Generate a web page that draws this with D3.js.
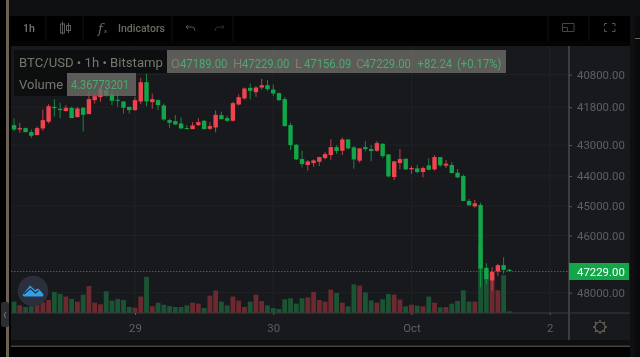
<!DOCTYPE html>
<html>
<head>
<meta charset="utf-8">
<script src="https://d3js.org/d3.v7.min.js"></script>
<style>
  html, body { margin: 0; padding: 0; background: #000; }
  svg { display: block; filter: blur(0.42px); }
  text { font-family: Roboto, sans-serif; }
</style>
</head>
<body>
<svg id="chart"></svg>
<script>
// one candle per hour, starting 28 Sep 03:00
const opens = [42363,42500,42458,42584,42679,42468,42258,41789,41851,41923,41820,42110,41820,42017,41581,41489,41274,41397,41571,41623,41789,41892,41623,41028,41643,41581,41747,42205,42237,42310,42458,42489,42363,42226,42479,42437,42048,42142,42226,41716,41530,41202,41335,41192,41120,41253,41366,41550,42363,42988,43448,43642,43577,43535,43416,43320,43063,43180,42817,43073,43502,43063,43126,43180,42956,43298,44035,43577,43438,43783,43751,43871,43653,43783,43384,43664,43642,43892,44002,44827,45006,44961,47118,47565,47247,47025,47189];
const highs = [42552,42605,42595,42775,42690,42542,42310,42090,42142,41934,42142,42121,42563,42017,41685,41633,41479,41737,41789,41996,41996,41913,41706,41768,41851,41892,42226,42447,42363,42489,42500,42489,42395,42500,42521,42595,42184,42258,42247,41747,41561,41561,41479,41253,41294,41448,41602,42395,43158,43481,43718,43827,43696,43675,43459,43470,43287,43320,43137,43762,43567,43201,43513,43212,43416,44046,44133,43783,43805,43936,43914,44046,43816,43827,43696,43740,43914,44068,44827,44995,45050,47802,47683,47933,47400,47330,47229];
const lows = [42153,42289,42437,42500,42405,41871,41706,41550,41664,41737,41789,41789,41789,41305,41376,41192,41253,41274,41294,41612,41789,41479,40896,40775,41376,41561,41685,42153,42048,42121,42363,42268,42142,42205,42268,41902,41944,42069,41633,41407,41192,41069,41151,40926,40967,41100,41345,41479,42289,42966,43180,43481,43459,43373,43223,42817,42998,42753,42817,43031,43105,42871,42998,42871,42945,43287,43513,43126,43438,43675,43631,43696,43427,43320,43384,43481,43545,43772,43947,44761,44794,44884,46955,47095,46978,46746,47156];
const closes = [42500,42458,42584,42700,42458,42205,41768,41830,41892,41820,42142,41841,42038,41550,41458,41243,41438,41602,41602,41820,41892,41581,41028,41623,41550,41737,42184,42289,42342,42468,42489,42373,42268,42489,42395,42038,42174,42226,41674,41489,41223,41294,41192,41120,41243,41376,41581,42395,42998,43459,43610,43524,43491,43384,43287,43063,43190,42817,43105,43459,43105,43126,43190,42934,43352,44013,43524,43448,43783,43740,43871,43740,43794,43384,43653,43599,43903,44046,44827,44973,44906,47142,47518,47259,47025,47189,47229];
const volumes = [29.7,20.1,15.7,17.5,21,28,34,55,50,43,36.7,29.7,48,70.7,27,22.7,56.7,32.3,36.7,34,15.7,14,43,94.3,17.5,27,21.8,18.3,15.7,15.7,20,27,24.4,13,45.4,58.5,29.7,20,43,32.3,15.7,29.7,48,31.4,20,13,10.5,35.8,38.4,24.4,38.4,41,55,34,29.7,61,52.4,27,17.5,75,71.6,54,33,27,35.8,49.8,48,35,17.5,21.8,19.2,17.5,42.8,27,14.8,15.7,24.4,31.4,59.4,29.7,29.7,177,105,105,59.4,98.7,4.37];
const priceTicks = [40800,41800,43000,44000,45000,46000,48000];
const lastPrice = 47229;
const dayTicks = [new Date(Date.UTC(2021,8,29)), new Date(Date.UTC(2021,8,30)), new Date(Date.UTC(2021,9,1)), new Date(Date.UTC(2021,9,2))];
const dayLabels = ["29","30","Oct","2"];
const ohlcLabels = [["O","47189.00",171,180],["H","47229.00",233,242],["L","47156.09",295,304],["C","47229.00",356,363.5]];
const changeLabels = [["+82.24",417.5],["(+0.17%)",457]];

const width = 640, height = 357;
const green = "#12a649", red = "#ee4450";
const volGreen = "#1b5434", volRed = "#6c2a30";
const hours = d3.range(opens.length).map(i => new Date(Date.UTC(2021,8,28,3 + i)));

const svg = d3.select("#chart").attr("width", width).attr("height", height).attr("viewBox", [0,0,width,height]);

const x = d3.scaleUtc().domain([dayTicks[0], dayTicks[3]]).range([135, 549.7]);
// log scale, flipped: 40800 at the top
const y = d3.scaleLog().domain([40800, 48000]).range([74.7, 292.7]);
const vol = d3.scaleLinear().domain([0, 177]).range([313, 245.3]);

// page chrome
svg.append("rect").attr("width", width).attr("height", height).attr("fill", "#0e0f11");
svg.append("rect").attr("y", 346).attr("width", 630).attr("height", 11).attr("fill", "#000");
svg.append("rect").attr("width", 6).attr("height", height).attr("fill", "#000");
svg.append("rect").attr("x", 9).attr("y", 16).attr("width", 621).attr("height", 30).attr("fill", "#040405");
svg.append("rect").attr("x", 9).attr("y", 46).attr("width", 2).attr("height", 311).attr("fill", "#040405");
svg.append("rect").attr("x", 11).attr("y", 16).attr("width", 619).attr("height", 25).attr("fill", "#000");
svg.append("rect").attr("x", 635).attr("y", 16).attr("width", 5).attr("height", 341).attr("fill", "#0a0a0c");
svg.append("rect").attr("x", 635).attr("y", 38).attr("width", 5).attr("height", 1).attr("fill", "#6b6255");
svg.append("rect").attr("x", 11).attr("y", 46).attr("width", 619).attr("height", 294).attr("fill", "#18191c");
svg.append("rect").attr("x", 6).attr("width", 3).attr("height", height).attr("fill", "#6b6255");
svg.append("rect").attr("x", 11).attr("y", 345.7).attr("width", 619).attr("height", 1).attr("fill", "#6b6255");

// grid
const grid = svg.append("g").attr("stroke", "#212226");
grid.selectAll("line.h").data(priceTicks).join("line").attr("class", "h")
  .attr("x1", 11).attr("x2", 569).attr("y1", d => y(d)).attr("y2", d => y(d));
grid.selectAll("line.v").data(dayTicks).join("line").attr("class", "v")
  .attr("y1", 46).attr("y2", 313).attr("x1", d => x(d)).attr("x2", d => x(d));

// volume under the candles
svg.append("g").selectAll("rect").data(volumes).join("rect")
  .attr("x", (d, i) => x(hours[i]) - 2.4)
  .attr("width", 4.8)
  .attr("y", d => vol(d))
  .attr("height", d => 313 - vol(d))
  .attr("fill", (d, i) => closes[i] < opens[i] ? volRed : volGreen);

// last price line
svg.append("line").attr("x1", 11).attr("x2", 569).attr("y1", y(lastPrice) + 0.5).attr("y2", y(lastPrice) + 0.5)
  .attr("stroke", "#1f7a45").attr("stroke-dasharray", "1.5,1.5");

// candles
const candles = svg.append("g").selectAll("g").data(hours).join("g")
  .attr("fill", (d, i) => closes[i] < opens[i] ? red : green)
  .attr("stroke", (d, i) => closes[i] < opens[i] ? red : green);
candles.append("line")
  .attr("x1", d => x(d)).attr("x2", d => x(d))
  .attr("y1", (d, i) => y(lows[i])).attr("y2", (d, i) => y(highs[i]))
  .attr("stroke-opacity", 0.8);
candles.append("rect")
  .attr("stroke", "none")
  .attr("x", d => x(d) - 2.2)
  .attr("width", 4.4)
  .attr("y", (d, i) => y(Math.min(opens[i], closes[i])))
  .attr("height", (d, i) => Math.max(1, Math.abs(y(opens[i]) - y(closes[i]))));

// price axis
svg.append("rect").attr("x", 569).attr("y", 46).attr("width", 61).attr("height", 294).attr("fill", "#18191c");
const yAxis = svg.append("g").attr("transform", "translate(569,0)")
  .call(d3.axisRight(y).tickValues(priceTicks).tickFormat(d3.format(".2f")).tickSize(3).tickPadding(5))
  .call(g => g.select(".domain").attr("d", "M0,46V340").attr("stroke", "#55565a").attr("stroke-width", 1.2));
yAxis.selectAll("line").attr("stroke", "#55565a");
yAxis.selectAll("text").attr("fill", "#5e5f63").style("font-size", "11.4px").style("font-family", "Roboto");

// time axis
const xAxis = svg.append("g").attr("transform", "translate(0,313)")
  .call(d3.axisBottom(x).tickValues(dayTicks).tickFormat((d, i) => dayLabels[i]).tickSize(2).tickPadding(9))
  .call(g => g.select(".domain").attr("d", "M11,0H630").attr("stroke", "#3a3b3f"));
xAxis.selectAll("line").attr("stroke", "#5e5f63");
xAxis.selectAll("text").attr("fill", "#5e5f63").style("font-size", "11.4px").style("font-family", "Roboto");

// last price tag
svg.append("rect").attr("x", 569).attr("y", 263).attr("width", 60).attr("height", 17).attr("fill", "#12a649");
svg.append("text").attr("x", 577).attr("y", 276).attr("fill", "#fff").style("font-size", "11.4px").text(lastPrice.toFixed(2));

// legend boxes sit over the candles
svg.append("rect").attr("x", 14).attr("y", 50).attr("width", 153).attr("height", 23).attr("fill", "#0d0e0f");
svg.append("rect").attr("x", 14).attr("y", 73).attr("width", 53).attr("height", 23).attr("fill", "#0d0e0f");
svg.append("rect").attr("x", 167).attr("y", 50).attr("width", 339).attr("height", 23).attr("fill", "#6e6e68").attr("fill-opacity", 0.78);
svg.append("rect").attr("x", 67).attr("y", 73).attr("width", 69).attr("height", 23).attr("fill", "#6e6e68").attr("fill-opacity", 0.78);

const legendGrey = "#77776f", legendGreen = "#4caa6e";
const legend = svg.append("g").style("font-size", "13px");
legend.append("text").attr("x", 19).attr("y", 66.5).attr("fill", legendGrey).style("font-size", "13.15px").text("BTC/USD • 1h • Bitstamp");
legend.append("text").attr("x", 19).attr("y", 89).attr("fill", legendGrey).text("Volume");
// the values are drawn narrower than the font's own width
const value = (tx, ty, sx, fill, s) => legend.append("text")
  .attr("transform", `translate(${tx},${ty}) scale(${sx},1)`).attr("fill", fill).text(s);
value(71, 89, 0.84, legendGreen, "4.36773201");
ohlcLabels.forEach(([k, v, kx, vx]) => {
  legend.append("text").attr("x", kx).attr("y", 68).attr("fill", "#7f7f78").text(k);
  value(vx, 68, 0.868, legendGreen, v);
});
changeLabels.forEach(([v, vx]) => value(vx, 68, 0.868, legendGreen, v));

// toolbar
const bar = svg.append("g");
bar.selectAll("line").data([46, 83, 172, 233, 548, 589]).join("line")
  .attr("x1", d => d).attr("x2", d => d).attr("y1", 16).attr("y2", 41).attr("stroke", "#131417");
bar.append("text").attr("x", 23).attr("y", 32).attr("fill", "#77776f").style("font-size", "10.5px").style("font-weight", 500).text("1h");
bar.append("text").attr("x", 118).attr("y", 32).attr("fill", "#6a6a64").style("font-size", "10.5px").style("font-weight", 500).text("Indicators");
bar.append("text").attr("x", 98).attr("y", 33).attr("fill", "#6a6a64").style("font-family", "DejaVu Serif").style("font-style", "italic").style("font-size", "13px").text("f");
bar.append("text").attr("x", 104).attr("y", 33).attr("fill", "#6a6a64").style("font-size", "6px").text("x");
const icons = bar.append("g").attr("fill", "none").attr("stroke", "#5c5c58");
icons.append("path").attr("d", "M62.5,21.5V34.5M68.5,23V33");
icons.append("rect").attr("x", 60.5).attr("y", 24).attr("width", 4).attr("height", 9);
icons.append("rect").attr("x", 66.5).attr("y", 25.5).attr("width", 4).attr("height", 5);
icons.append("path").attr("d", "M186,27H192Q195,27 195,31M188,25L186,27L188,29").attr("stroke", "#55554f");
icons.append("path").attr("d", "M224,27H218Q215,27 215,31M222,25L224,27L222,29").attr("stroke", "#2c2c2a");
icons.append("path").attr("d", "M562.5,23.5H574V31.5H562.5ZM562.5,27.5H567.5V31.5").attr("stroke", "#444441");
icons.append("path").attr("d", "M604.5,26V23.5H607M612,23.5H615V26M604.5,29V31.5H607M612,31.5H615V29").attr("stroke", "#555550");

// settings gear
const gear = svg.append("g").attr("transform", "translate(600,327)").attr("fill", "none").attr("stroke", "#6b6255");
gear.append("circle").attr("r", 5).attr("stroke-width", 1.2);
gear.selectAll("line").data(d3.range(8)).join("line")
  .attr("transform", d => `rotate(${d * 45})`).attr("y1", -5).attr("y2", -7).attr("stroke-width", 1.4);

// logo and side handle
svg.append("circle").attr("cx", 33).attr("cy", 291).attr("r", 15.3).attr("fill", "#2b2f3b");
svg.append("path").attr("d", "M22.5,295L30,285.5L35,290L38,288.5L42,292.5Q44.5,296 42.5,296.5H24Z").attr("fill", "#2f9fee");
svg.append("path").attr("d", "M24,294L30.5,288.5L35.5,293L38.5,290.5").attr("fill", "none").attr("stroke", "#2b2f3b").attr("stroke-width", 1.3);
svg.append("rect").attr("x", 1).attr("y", 302).attr("width", 8).attr("height", 25).attr("rx", 2).attr("fill", "#2c2d30");
svg.append("path").attr("d", "M6,312L4,315L6,318").attr("fill", "none").attr("stroke", "#77776f");
</script>
</body>
</html>
